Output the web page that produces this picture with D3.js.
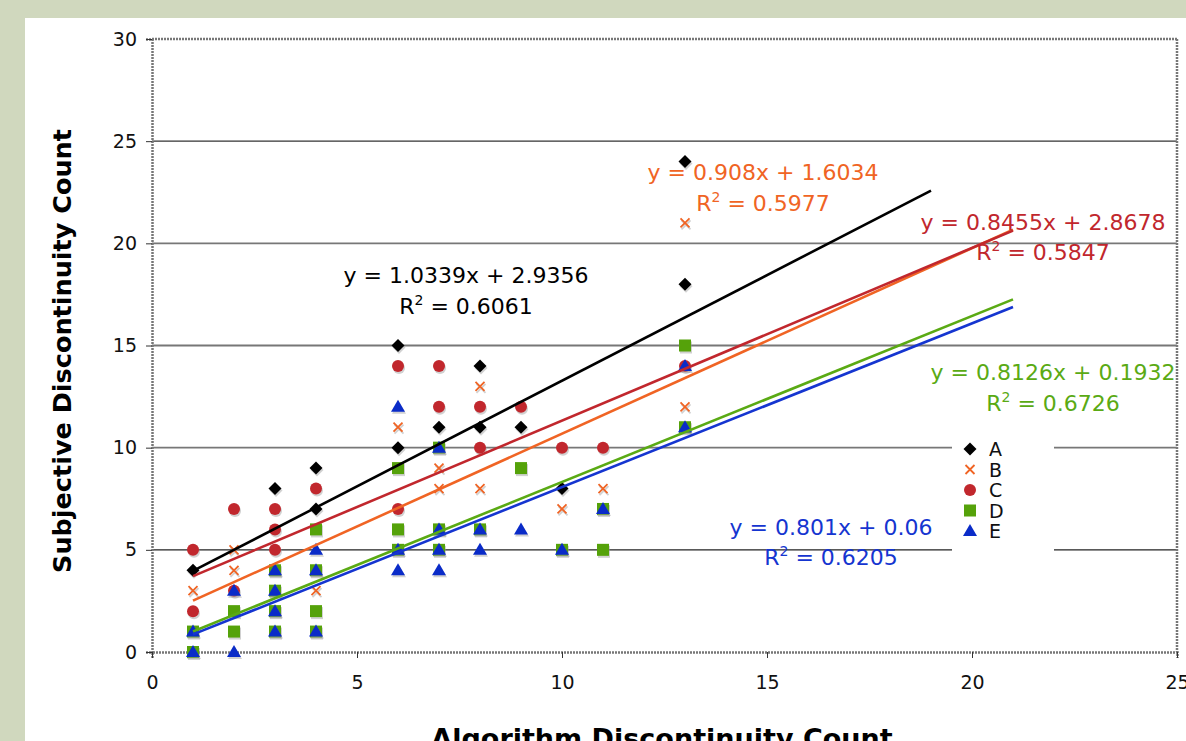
<!DOCTYPE html>
<html><head><meta charset="utf-8">
<script src="https://cdn.jsdelivr.net/npm/d3@7"></script>
<style>
html,body{margin:0;padding:0;background:#d0d8be;overflow:hidden}
svg{display:block}
</style></head><body>
<svg id="chart" width="1186" height="741"></svg>
<script>
// ---- data ----
const seriesNames = ["A","B","C","D","E"];
const seriesA = [[1,4],[3,8],[4,9],[4,7],[6,15],[6,10],[7,11],[8,14],[8,11],[9,11],[10,8],[13,24],[13,18]];
const seriesB = [[1,3],[2,5],[2,4],[4,3],[6,11],[7,9],[7,8],[8,13],[8,8],[10,7],[11,8],[13,21],[13,12]];
const seriesC = [[1,5],[1,2],[2,7],[2,3],[3,7],[3,6],[3,5],[4,8],[6,14],[6,7],[7,14],[7,12],[8,12],[8,10],[9,12],[10,10],[11,10],[13,14]];
const seriesD = [[1,1],[1,0],[2,2],[2,1],[3,4],[3,3],[3,2],[3,1],[4,6],[4,4],[4,2],[4,1],[6,9],[6,6],[6,5],[7,10],[7,6],[7,5],[8,6],[9,9],[10,5],[11,7],[11,5],[13,15],[13,11]];
const seriesE = [[1,1],[1,0],[2,3],[2,0],[3,4],[3,3],[3,2],[3,1],[4,5],[4,4],[4,1],[6,12],[6,5],[6,4],[7,10],[7,6],[7,5],[7,4],[8,6],[8,5],[9,6],[10,5],[11,7],[13,14],[13,11]];
const trendSlopes = [1.0339, 0.908, 0.8455, 0.8126, 0.801];
const trendIntercepts = [2.9356, 1.6034, 2.8678, 0.1932, 0.06];
const trendXStart = [1, 1, 1, 1, 1];
const trendXEnd = [19, 21, 21, 21, 21];
const trendEqLabels = ["y = 1.0339x + 2.9356","y = 0.908x + 1.6034","y = 0.8455x + 2.8678","y = 0.8126x + 0.1932","y = 0.801x + 0.06"];
const trendR2Labels = ["0.6061","0.5977","0.5847","0.6726","0.6205"];
const xTicks = [0,5,10,15,20,25];
const yTicks = [0,5,10,15,20,25,30];
const xTitle = "Algorithm Discontinuity Count";
const yTitle = "Subjective Discontinuity Count";

// ---- styles ----
const colors = ["#000000","#f06424","#c1272d","#55a20a","#0a2bc8"];
const lineColors = ["#000000","#f06424","#c1272d","#5aaa14","#1535d0"];
const shapes = ["diamond","x","circle","square","triangle"];
const eqPos = [[466,275,306],[763,172,203],[1043,222,252],[1053,372,403],[831,527,557]];
const FONT = "DejaVu Sans, Verdana, sans-serif";

const svg = d3.select("#chart");
svg.append("rect").attr("x",25).attr("y",18).attr("width",1161).attr("height",723).attr("fill","#ffffff");

const x = d3.scaleLinear().domain([0,25]).range([152,1177]);
const y = d3.scaleLinear().domain([0,30]).range([652,39]);

// gridlines
const gridColors = {5:"#222",10:"#777",15:"#777",20:"#777",25:"#333"};
svg.append("g").selectAll("line").data(yTicks.filter(t=>t>0&&t<30)).join("line")
  .attr("x1",x(0)).attr("x2",x(25)).attr("y1",d=>y(d)).attr("y2",d=>y(d))
  .attr("stroke",d=>gridColors[d]).attr("stroke-width",d=>gridColors[d]==="#777"?1.8:1.3);

// plot border (top/right)
svg.append("line").attr("x1",x(0)).attr("x2",x(25)).attr("y1",y(30)).attr("y2",y(30))
  .attr("stroke","#777").attr("stroke-width",2.5).attr("stroke-dasharray","2,1");
svg.append("line").attr("x1",x(25)).attr("x2",x(25)).attr("y1",y(30)).attr("y2",y(0))
  .attr("stroke","#777").attr("stroke-width",2.5).attr("stroke-dasharray","2,1");

// axes
const yAxis = d3.axisLeft(y).tickValues(yTicks).tickSize(6).tickPadding(9).tickFormat(d3.format("d"));
const gy = svg.append("g").attr("transform",`translate(${x(0)},0)`).call(yAxis);
gy.select(".domain").attr("stroke","#777").attr("stroke-width",2.5).attr("stroke-dasharray","2,1");
gy.selectAll(".tick line").attr("stroke","#333");
gy.selectAll("text").attr("font-family",FONT).attr("font-size",19).attr("fill","#111");

const xAxis = d3.axisBottom(x).tickValues(xTicks).tickSize(6).tickPadding(18).tickFormat(d3.format("d"));
const gx = svg.append("g").attr("transform",`translate(0,${y(0)})`).call(xAxis);
gx.select(".domain").attr("stroke","#777").attr("stroke-width",2.5).attr("stroke-dasharray","2,1");
gx.selectAll(".tick line").attr("stroke","#333");
gx.selectAll("text").attr("font-family",FONT).attr("font-size",19).attr("fill","#111");

// titles
svg.append("text").attr("transform","translate(71,351) rotate(-90)").attr("text-anchor","middle")
  .attr("font-family",FONT).attr("font-weight","bold").attr("font-size",25.5)
  .attr("fill","#000").text(yTitle);
svg.append("text").attr("x",662).attr("y",748).attr("text-anchor","middle")
  .attr("font-family",FONT).attr("font-weight","bold").attr("font-size",27)
  .attr("fill","#000").text(xTitle);

// marker drawing
function drawMarker(g, shape, color, cx, cy, shadow){
  const fill = shadow ? "#999" : color;
  const op = shadow ? 0.45 : 1;
  if(shape==="diamond"){
    g.append("path").attr("d",`M${cx},${cy-6.5}L${cx+6.5},${cy}L${cx},${cy+6.5}L${cx-6.5},${cy}Z`).attr("fill",fill).attr("opacity",op);
  } else if(shape==="circle"){
    g.append("circle").attr("cx",cx).attr("cy",cy).attr("r",6).attr("fill",fill).attr("opacity",op);
  } else if(shape==="square"){
    g.append("rect").attr("x",cx-6).attr("y",cy-6).attr("width",12).attr("height",12).attr("fill",fill).attr("opacity",op);
  } else if(shape==="triangle"){
    g.append("path").attr("d",`M${cx},${cy-7}L${cx+7},${cy+5}L${cx-7},${cy+5}Z`).attr("fill",fill).attr("opacity",op);
  } else if(shape==="x"){
    g.append("path").attr("d",`M${cx-4.5},${cy-4.5}L${cx+4.5},${cy+4.5}M${cx+4.5},${cy-4.5}L${cx-4.5},${cy+4.5}`)
      .attr("stroke",shadow?"#999":color).attr("stroke-width",1.8).attr("fill","none").attr("opacity",op);
  }
}

const allSeries = [seriesA,seriesB,seriesC,seriesD,seriesE];
const pts = svg.append("g");
allSeries.forEach((s,i)=>{
  s.forEach(p=>{
    drawMarker(pts, shapes[i], colors[i], x(p[0])+1, y(p[1])+2, true);
    drawMarker(pts, shapes[i], colors[i], x(p[0]), y(p[1]), false);
  });
});

// trend lines
const lineGen = d3.line().x(d=>x(d[0])).y(d=>y(d[1]));
trendSlopes.forEach((m,i)=>{
  const b = trendIntercepts[i];
  const pts2 = [[trendXStart[i], m*trendXStart[i]+b],[trendXEnd[i], m*trendXEnd[i]+b]];
  svg.append("path").attr("d",lineGen(pts2)).attr("stroke",lineColors[i]).attr("stroke-width",2.6).attr("fill","none");
});

// equation labels
trendEqLabels.forEach((t,i)=>{
  const [cx,y1,y2] = eqPos[i];
  const g = svg.append("g").attr("font-family",FONT).attr("font-size",22).attr("fill",lineColors[i]);
  g.append("text").attr("x",cx).attr("y",y1+8).attr("text-anchor","middle").text(t);
  const r = g.append("text").attr("x",cx).attr("y",y2+8).attr("text-anchor","middle");
  r.append("tspan").text("R");
  r.append("tspan").attr("font-size",14).attr("dy",-9).text("2");
  r.append("tspan").attr("dy",9).text(" = " + trendR2Labels[i]);
});

// legend
svg.append("rect").attr("x",952).attr("y",432).attr("width",102).attr("height",152).attr("fill","#ffffff");
const lg = svg.append("g");
seriesNames.forEach((n,i)=>{
  const ly = 449 + i*20.5;
  drawMarker(lg, shapes[i], colors[i], 970, ly, false);
  lg.append("text").attr("x",989).attr("y",ly+7).attr("font-family",FONT)
    .attr("font-size",19).attr("fill","#111").text(n);
});
</script>
</body></html>
